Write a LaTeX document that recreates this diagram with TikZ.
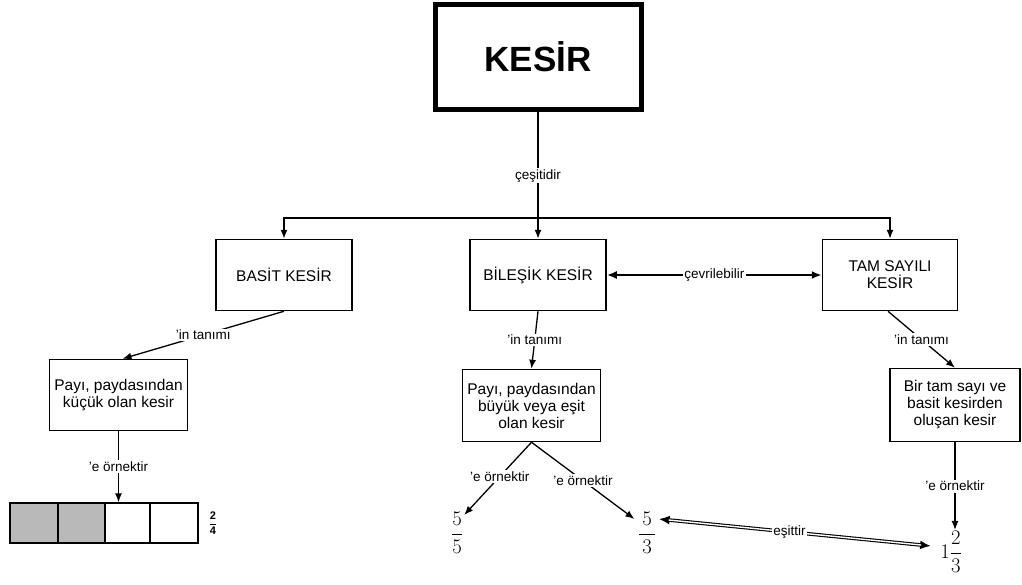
\documentclass[tikz,border=0pt]{standalone}
\usepackage{fontspec}
\setmainfont{Liberation Sans}
\usetikzlibrary{arrows.meta,calc}
\begin{document}
\begin{tikzpicture}[x=1pt,y=-1pt,
  box/.style={draw, line width=1.5pt, align=center, inner sep=2pt, font=\fontsize{15.5}{17}\selectfont},
  lbl/.style={fill=white, inner sep=1.5pt, font=\fontsize{13.5}{15}\selectfont},
  arr/.style={line width=1.3pt, -{Latex[length=9pt,width=7pt]}},
  link/.style={line width=1.3pt},
  fracnode/.style={inner sep=1pt, font=\fontsize{20}{22}\selectfont}]
\useasboundingbox (0,0) rectangle (1022,584);

% root concept
\node[draw, line width=5pt, minimum width=206pt, minimum height=105pt,
      font=\fontsize{35}{38}\selectfont\bfseries] (kesir) at (538,57) {KESİR};

% the three kinds of fractions
\node[box, minimum width=136pt, minimum height=71pt] (basit) at (284,275) {BASİT KESİR};
\node[box, minimum width=136pt, minimum height=71pt] (bilesik) at (538,275) {BİLEŞİK KESİR};
\node[box, minimum width=135pt, minimum height=71pt] (tam) at (890,275) {TAM SAYILI\\KESİR};

% definitions
\node[box, minimum width=138pt, minimum height=71pt] (tanim1) at (118.5,395) {Payı, paydasından\\küçük olan kesir};
\node[box, minimum width=138pt, minimum height=72pt] (tanim2) at (531.5,405.5) {Payı, paydasından\\büyük veya eşit\\olan kesir};
\node[box, minimum width=130pt, minimum height=73pt] (tanim3) at (955,405) {Bir tam sayı ve\\basit kesirden\\oluşan kesir};

% examples: shaded bar 2/4
\fill[gray!55] (10,503) rectangle (105,543);
\node[draw, line width=1.4pt, minimum width=188pt, minimum height=40pt, inner sep=0pt] (bar) at (104,523) {};
\foreach \xx in {58,105,150} \draw[line width=1.4pt] (\xx,503) -- (\xx,543);
\node[inner sep=1pt, font=\fontsize{11}{12}\selectfont] (f24) at (213,523) {$\displaystyle\frac{\textbf{2}}{\textbf{4}}$};

\node[fracnode] (f55) at (457,533) {$\displaystyle\frac{5}{5}$};
\node[fracnode] (f53) at (647,533) {$\displaystyle\frac{\,5\,}{\,3\,}$};
\node[fracnode] (f123) at (951,552) {$\displaystyle 1\frac{2}{3}$};

% root to kinds
\coordinate (j) at (538,218);
\draw[link] (kesir.south) -- node[lbl, pos=0.6] {çeşitidir} (j);
\draw[arr] (j) -| (basit.north);
\draw[arr] (j) -- (bilesik.north);
\draw[arr] (j) -| (tam.north);

% conversion between improper and mixed fractions
\draw[line width=2pt, {Latex[length=10pt,width=8pt]}-{Latex[length=10pt,width=8pt]}]
  (bilesik.east) -- node[lbl] {çevrilebilir} (tam.west);

% definitions
\draw[arr] (basit.south) -- node[lbl] {'in tanımı} ($(tanim1.north)+(4,0)$);
\draw[arr] (bilesik.south) -- node[lbl] {'in tanımı} (tanim2.north);
\draw[arr] ($(tam.south)+(-2,0)$) -- node[lbl] {'in tanımı} (tanim3.north);

% examples
\draw[arr] (tanim1.south) -- node[lbl] {'e örnektir} (tanim1.south |- bar.north);
\draw[arr] (tanim2.south) -- node[lbl, pos=0.47] {'e örnektir} ($(f55.north east)+(0,4)$);
\draw[arr] (tanim2.south) -- node[lbl, pos=0.5] {'e örnektir} ($(f53.north west)+(-2,8)$);
\draw[arr] (tanim3.south) -- node[lbl] {'e örnektir} (tanim3.south |- f123.north);

% equality of 5/3 and 1 2/3: a double line with solid heads
\coordinate (eqa) at ($(f53.east)+(1,-14)$);
\coordinate (eqb) at ($(f123.west)+(-8,-6)$);
\draw[line width=3.6pt, {Latex[length=11pt,width=9pt]}-{Latex[length=11pt,width=9pt]}] (eqa) -- (eqb);
\draw[white, line width=1.4pt, shorten <=10pt, shorten >=10pt] (eqa) -- (eqb);
\path (eqa) -- node[lbl, pos=0.48] {eşittir} (eqb);
\end{tikzpicture}
\end{document}
